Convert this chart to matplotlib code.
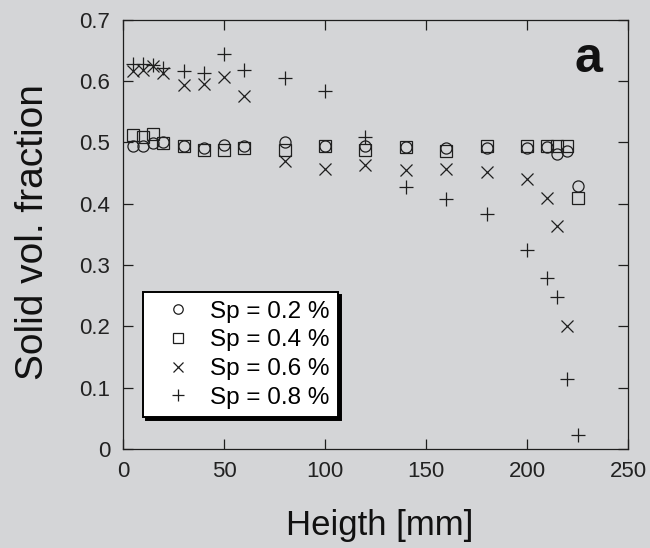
#!/usr/bin/env python3
"""Solid volume fraction vs height for four Sp values (panel a)."""

import matplotlib
matplotlib.use('Agg')
import matplotlib.pyplot as plt

plt.rcParams['font.family'] = ['Liberation Sans', 'DejaVu Sans']

# Heights (mm) at which the fraction was measured
height = [5, 10, 15, 20, 30, 40, 50, 60, 80, 100, 120, 140, 160, 180,
          200, 210, 215, 220, 225]
height_06 = height[:-1]  # Sp = 0.6 % has no point at 225 mm

sp02 = [0.494, 0.494, 0.499, 0.501, 0.494, 0.490, 0.496, 0.494, 0.500, 0.494,
        0.494, 0.492, 0.490, 0.490, 0.490, 0.493, 0.481, 0.486, 0.428]
sp04 = [0.511, 0.508, 0.513, 0.498, 0.494, 0.488, 0.488, 0.490, 0.488, 0.494,
        0.487, 0.492, 0.486, 0.494, 0.494, 0.494, 0.494, 0.494, 0.409]
sp06 = [0.616, 0.618, 0.624, 0.613, 0.594, 0.595, 0.606, 0.576, 0.470, 0.456,
        0.463, 0.454, 0.456, 0.452, 0.440, 0.409, 0.363, 0.201]
sp08 = [0.627, 0.628, 0.626, 0.621, 0.616, 0.612, 0.643, 0.617, 0.605, 0.584,
        0.508, 0.427, 0.407, 0.383, 0.325, 0.278, 0.248, 0.114, 0.022]

bg = '#d4d5d7'
ink = '#1e1e1e'

fig = plt.figure(figsize=(6.5, 5.48), dpi=100, facecolor=bg)
ax = fig.add_axes([0.1892, 0.1807, 0.777, 0.7837], facecolor=bg)

ax.plot(height, sp02, 'o', ms=8, mfc='none', mec=ink, mew=0.9, label='Sp = 0.2 %')
ax.plot(height, sp04, 's', ms=9, mfc='none', mec=ink, mew=0.9, label='Sp = 0.4 %')
ax.plot(height_06, sp06, 'x', ms=9, mec=ink, mew=0.9, label='Sp = 0.6 %')
ax.plot(height, sp08, '+', ms=10, mec=ink, mew=0.9, label='Sp = 0.8 %')

ax.set_xlim(0, 250)
ax.set_ylim(0, 0.7)
ax.set_xticks([0, 50, 100, 150, 200, 250])
ax.set_yticks([0, 0.1, 0.2, 0.3, 0.4, 0.5, 0.6, 0.7])
ax.set_yticklabels(['0', '0.1', '0.2', '0.3', '0.4', '0.5', '0.6', '0.7'])
ax.tick_params(direction='in', length=7, width=0.9, color=ink,
               top=True, right=True, labelsize=16, pad=9, labelcolor='#222222')
for sp in ax.spines.values():
    sp.set_color(ink)
    sp.set_linewidth(0.9)

ax.set_xlabel('Heigth [mm]', fontsize=25, color='#111111')
ax.set_ylabel('Solid vol. fraction', fontsize=28, color='#111111')
ax.xaxis.set_label_coords(0.508, -0.14)
ax.yaxis.set_label_coords(-0.142, 0.505)

ax.text(0.921, 0.908, 'a', transform=ax.transAxes, fontsize=36,
        fontweight='bold', ha='center', va='center', color='#111111')

leg = ax.legend(loc='upper left', bbox_to_anchor=(0.0396, 0.3655),
                fontsize=17.5, frameon=True, fancybox=False, framealpha=1,
                edgecolor='black', facecolor='white', markerscale=0.85,
                handlelength=2.15, handletextpad=0.25, labelspacing=0.28,
                borderpad=0.35, borderaxespad=0,
                shadow={'color': 'black', 'alpha': 1})
leg.get_frame().set_linewidth(1.4)

fig.savefig('out.png', dpi=100, facecolor=bg)
